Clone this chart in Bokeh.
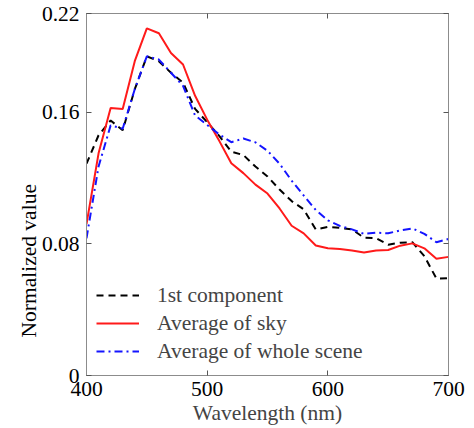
from bokeh.plotting import figure
from bokeh.models import (FixedTicker, LinearAxis, Title, Legend, LegendItem, Range1d,
                          CustomLabelingPolicy)
from bokeh.embed import file_html
from bokeh.resources import INLINE

wavelength = list(range(400, 701, 10))
first_component = [0.1287, 0.146, 0.155, 0.149, 0.174, 0.194, 0.191, 0.184, 0.178, 0.162,
                   0.154, 0.1456, 0.136, 0.134, 0.127, 0.121, 0.113, 0.106, 0.101, 0.0888,
                   0.0903, 0.0897, 0.0888, 0.0837, 0.0834, 0.0795, 0.0807, 0.081, 0.0725, 0.0589, 0.0592]
average_sky = [0.092, 0.135, 0.1625, 0.162, 0.191, 0.211, 0.208, 0.196, 0.189, 0.170,
               0.1555, 0.1426, 0.129, 0.123, 0.116, 0.1106, 0.1015, 0.091, 0.0864, 0.079,
               0.0773, 0.0769, 0.076, 0.0747, 0.076, 0.0763, 0.0789, 0.0803, 0.0773, 0.0709, 0.0721]
average_scene = [0.0834, 0.127, 0.152, 0.150, 0.174, 0.194, 0.192, 0.184, 0.176, 0.158,
                 0.1523, 0.1465, 0.1418, 0.144, 0.1417, 0.1366, 0.1287, 0.1184, 0.1094, 0.1006,
                 0.0943, 0.0909, 0.0888, 0.0861, 0.0868, 0.0864, 0.0882, 0.0894, 0.0861, 0.081, 0.083]
series_labels = ["1st component", "Average of sky", "Average of whole scene"]
xticks = [400, 500, 600, 700]
yticks = [0, 0.08, 0.16, 0.22]
ytick_labels = ["0", "0.08", "0.16", "0.22"]
x_label = "Wavelength (nm)"
y_label = "Normalized value"

FONT = "Liberation Serif"
FS = "21.5px"
BORDER = "#8c8c8c"

p = figure(width=470, height=427, output_backend="svg", toolbar_location=None,
           x_range=Range1d(400, 700), y_range=Range1d(0, 0.22),
           min_border_left=86, min_border_right=22, min_border_top=13, min_border_bottom=50,
           background_fill_color="white", border_fill_color="white")
p.grid.visible = False
p.outline_line_color = BORDER

hide_all = CustomLabelingPolicy(code="""
try { return new indices.constructor(indices.size, 0) } catch (e) { return indices }
""")

def style_axis(ax, labels=True):
    ax.major_tick_in = 5
    ax.major_tick_out = 0
    ax.minor_tick_line_color = None
    ax.axis_line_color = BORDER
    ax.major_tick_line_color = "#555555"
    ax.major_label_text_font = FONT
    ax.major_label_text_color = "black"
    if labels:
        ax.major_label_text_font_size = FS
    else:
        ax.major_label_policy = hide_all
        ax.major_label_text_font_size = "0px"
        ax.major_label_standoff = 0

p.xaxis.ticker = FixedTicker(ticks=xticks)
p.yaxis.ticker = FixedTicker(ticks=yticks)
p.yaxis.major_label_overrides = {t: s for t, s in zip(yticks, ytick_labels)}
style_axis(p.xaxis[0])
style_axis(p.yaxis[0])
p.xaxis.major_label_standoff = 6
p.yaxis.major_label_standoff = 7
p.xaxis.axis_label = x_label
p.xaxis.axis_label_text_font = FONT
p.xaxis.axis_label_text_font_size = FS
p.xaxis.axis_label_text_font_style = "normal"
p.xaxis.axis_label_standoff = 2

top = LinearAxis(ticker=FixedTicker(ticks=xticks))
style_axis(top, labels=False)
p.add_layout(top, "above")
right = LinearAxis(ticker=FixedTicker(ticks=yticks))
style_axis(right, labels=False)
p.add_layout(right, "right")

ytitle = Title(text=y_label, align="left", offset=38, text_font=FONT,
               text_font_size=FS, text_font_style="normal", text_color="black",
               standoff=-5)
p.add_layout(ytitle, "left")

r1 = p.line(wavelength, first_component, line_color="black", line_width=2, line_dash="7 5")
r2 = p.line(wavelength, average_sky, line_color="#ff1a1a", line_width=2)
r3 = p.line(wavelength, average_scene, line_color="#1414ff", line_width=2, line_dash="8 4 2 4")

legend = Legend(items=[LegendItem(label=series_labels[0], renderers=[r1]),
                       LegendItem(label=series_labels[1], renderers=[r2]),
                       LegendItem(label=series_labels[2], renderers=[r3])],
                location="bottom_left", border_line_alpha=0, background_fill_alpha=0,
                label_text_font=FONT, label_text_font_size=FS, glyph_width=43,
                glyph_height=28, label_height=28, spacing=0, padding=10, margin=0,
                label_standoff=18)
p.add_layout(legend)

open("out.html", "w").write(file_html(p, INLINE))
